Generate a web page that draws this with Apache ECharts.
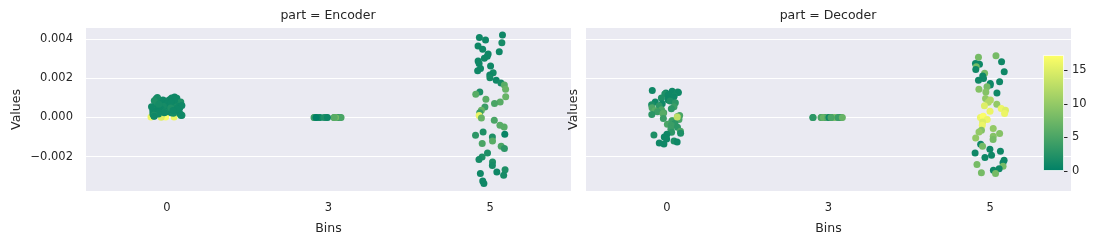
<!DOCTYPE html>
<html>
<head>
<meta charset="utf-8">
<script src="https://cdn.jsdelivr.net/npm/echarts@6/dist/echarts.min.js"></script>
<style>html,body{margin:0;padding:0;background:#fff}#c{width:1100px;height:244px}</style>
</head>
<body>
<div id="c"></div>
<script>
// ---- data ----
const bins = ['0', '3', '5'];
const yTicks = [-0.002, 0, 0.002, 0.004];
const cbTicks = [0, 5, 10, 15];

// Encoder
const encBin0Values = [0.00003,0.00002,0.00001,0.00002,0.00105,0.00102,0.00098,0.00095,0.00092,0.0009,0.00088,0.00085,0.00083,0.0008,0.00078,0.00075,0.00072,0.0007,0.00068,0.00065,0.00062,0.0006,0.00058,0.00055,0.00052,0.0005,0.00048,0.00045,0.00042,0.0004,0.00038,0.00035,0.00032,0.0003,0.00028,0.00025,0.00022,0.0002,0.00018,0.00015,0.00012,0.0001,0.00008,0.001,0.00096,0.0009,0.00086,0.0008,0.00074,0.00068,0.00061,0.00055,0.00049,0.00043,0.00036,0.0003,0.00024,0.00018,0.00012,0.00007];
const encBin0Hue    = [16,17,15,16,1,1.5,1,2,1,1,1.5,1,1,2,1,1,1.5,1,1,2,1,1,1.5,1,1,2,1,1,1,1.5,1,1,2,1,1,1,1.5,1,1,1,2,1,1,1,1.5,1,2,1,1,1.5,1,1,2,1,1,1.5,1,1,2,1];
const encBin3Values = [0,0,0,0,0,0,0,0,0,0,0,0,0,0,0,0,0,0,0,0];
const encBin3Hue    = [8,7,6,5,4,3,2,1,0.5,6,7,5,3,1,8,2,4,6,1,0];
const encBin5Values = [0.00422,0.0041,0.00396,0.00383,0.00366,0.00349,0.00336,0.00325,0.00314,0.00303,0.00289,0.00277,0.00263,0.00251,0.00239,0.00229,0.00217,0.00203,0.00191,0.00177,0.00166,0.00144,0.00131,0.00119,0.00106,0.00094,0.0008,0.00072,0.00054,0.00037,0.00024,0.0001,-0.00002,-0.00014,-0.0004,-0.00048,-0.00074,-0.00086,-0.00091,-0.001,-0.0012,-0.00133,-0.00147,-0.00159,-0.00182,-0.00202,-0.00215,-0.00228,-0.00245,-0.00267,-0.00279,-0.00287,-0.00296,-0.00325,-0.00338];
const encBin5Hue    = [1,1,1,1.5,1,1,1,1,1,1,1,1,1,1,1,1.5,1,1.5,1,1.5,6,7,2,6,7,6,6,5,4,7,4,16,7,5,6,6,2,0.5,3,2,6,5,5,3,2,2,1.5,2,1.5,2,1,1,1.5,1,1];

// Decoder
const decBin0Values = [0.00138,0.00135,0.0013,0.00128,0.00125,0.0012,0.00115,0.0011,0.00105,0.001,0.00095,0.0009,0.00085,0.0008,0.00075,0.0007,0.00065,0.0006,0.00055,0.0005,0.00045,0.0004,0.00035,0.0003,0.00025,0.0002,0.00015,0.0001,0.00005,-0.00005,-0.0001,-0.00015,-0.0002,-0.0003,-0.00035,-0.0004,-0.0005,-0.0006,-0.0007,-0.00075,0.00003,-0.0008,-0.00085,-0.0009,-0.001,-0.0011,-0.0012,-0.00125,-0.0013,-0.00135];
const decBin0Hue    = [1,1,1.5,1,1,2,1,1.5,1,2,1,1,2,1,3,1,2,3,4,5,3,5,6,4,5,6,3,5,6,4,5,6,4,3,5,4,3,4,5,3,13,2,1,2,1,1,2,1,1,1];
const decBin3Values = [0,0,0,0,0,0,0,0,0,0,0,0,0,0,0,0,0,0,0,0];
const decBin3Hue    = [9,8,7,6,5,4,3,2,1,7,8,5,3,2,9,6,4,1,7,5];
const decBin5Values = [0.00316,0.00308,0.00285,0.00273,0.00277,0.0026,0.00246,0.00234,0.00226,0.00212,0.002,0.00191,0.00183,0.00174,0.00166,0.00157,0.00144,0.00126,0.00131,0.00097,0.00089,0.00078,0.00068,0.0006,0.00046,0.00032,0.00037,0.0002,0,0.00007,-0.0001,-0.00023,-0.0004,-0.00056,-0.00065,-0.00074,-0.00082,-0.00096,-0.00105,-0.00113,-0.00137,-0.00147,-0.00163,-0.00173,-0.00182,-0.00193,-0.00205,-0.00219,-0.00231,-0.0024,-0.0025,-0.00262,-0.0027,-0.00282,-0.00287];
const decBin5Hue    = [8,8,1,1,1,8,1,1,8,1,1,1,1,1,1,8,9,1,9,10,12,12,10,15,16,16,15,16,16,17,16,15,16,10,9,10,9,9,10,8,1,8,1,1,1,1,1,1,1,8,8,1,1,8,8];

const cbMin = 0, cbMax = 17.3;

// ---- chart ----
const TXT = '#262626';
const FONT = 'DejaVu Sans';
const grids = [
  {left: 86, top: 28, width: 485, height: 163, backgroundColor: '#EAEAF2', show: true, borderWidth: 0},
  {left: 586, top: 28, width: 485, height: 163, backgroundColor: '#EAEAF2', show: true, borderWidth: 0},
  {left: 1043, top: 55, width: 21, height: 116, show: false}
];
function xAx(gi) {
  return {
    type: 'category', gridIndex: gi, data: bins, boundaryGap: true,
    jitter: 32, jitterOverlap: true,
    axisLine: {show: false}, axisTick: {show: false}, splitLine: {show: false},
    axisLabel: {color: TXT, fontFamily: FONT, fontSize: 11.5, margin: 11},
    name: 'Bins', nameLocation: 'middle', nameGap: 31,
    nameTextStyle: {color: TXT, fontFamily: FONT, fontSize: 12.5}
  };
}
function yAx(gi, showLabels, gap) {
  return {
    type: 'value', gridIndex: gi, min: -0.00376, max: 0.00458,
    axisLine: {show: false},
    axisTick: {show: false, customValues: yTicks},
    axisLabel: {show: showLabels, customValues: yTicks, color: TXT, fontFamily: FONT, fontSize: 11.5, margin: 13,
      formatter: v => v.toFixed(3).replace('-', '\u2212')},
    splitLine: {show: true, lineStyle: {color: '#ffffff', width: 1}},
    name: 'Values', nameLocation: 'middle', nameGap: gap, nameRotate: 90,
    nameTextStyle: {color: TXT, fontFamily: FONT, fontSize: 12.5}
  };
}
function ser(gi, cat, vals, hues) {
  return {
    type: 'scatter', xAxisIndex: gi, yAxisIndex: gi, symbolSize: 7,
    data: vals.map((v, i) => [cat, v, hues[i]]),
    itemStyle: {opacity: 1}, emphasis: {disabled: true}
  };
}
const series = [
  ser(0, '0', encBin0Values, encBin0Hue),
  ser(0, '3', encBin3Values, encBin3Hue),
  ser(0, '5', encBin5Values, encBin5Hue),
  ser(1, '0', decBin0Values, decBin0Hue),
  ser(1, '3', decBin3Values, decBin3Hue),
  ser(1, '5', decBin5Values, decBin5Hue),
  {
    type: 'bar', xAxisIndex: 2, yAxisIndex: 2, data: [cbMax], barWidth: '100%', silent: true,
    itemStyle: {
      borderColor: '#ffffff', borderWidth: 0.8,
      color: {type: 'linear', x: 0, y: 0, x2: 0, y2: 1,
        colorStops: [{offset: 0, color: '#ffff66'}, {offset: 1, color: '#008066'}]}
    }
  }
];
const chart = echarts.init(document.getElementById('c'), null, {renderer: 'canvas'});
chart.setOption({
  animation: false,
  backgroundColor: '#ffffff',
  grid: grids,
  xAxis: [xAx(0), xAx(1), {type: 'category', gridIndex: 2, data: [''], show: false, boundaryGap: true}],
  yAxis: [yAx(0, true, 63), yAx(1, false, 6), {
    type: 'value', gridIndex: 2, min: cbMin, max: cbMax, position: 'right',
    axisLine: {show: false}, splitLine: {show: false},
    axisTick: {show: true, length: 3.5, lineStyle: {color: TXT, width: 1}, customValues: cbTicks},
    axisLabel: {color: TXT, fontFamily: FONT, fontSize: 11.5, margin: 8, customValues: cbTicks}
  }],
  visualMap: {
    type: 'continuous', show: false, min: cbMin, max: cbMax, dimension: 2,
    seriesIndex: [0, 1, 2, 3, 4, 5],
    inRange: {color: ['#008066', '#ffff66']}
  },
  graphic: [
    {type: 'text', x: 328, y: 16, style: {text: 'part = Encoder', fill: TXT, font: '12.5px "DejaVu Sans"', textAlign: 'center', textVerticalAlign: 'middle'}},
    {type: 'text', x: 828, y: 16, style: {text: 'part = Decoder', fill: TXT, font: '12.5px "DejaVu Sans"', textAlign: 'center', textVerticalAlign: 'middle'}}
  ],
  series: series
});
</script>
</body>
</html>
